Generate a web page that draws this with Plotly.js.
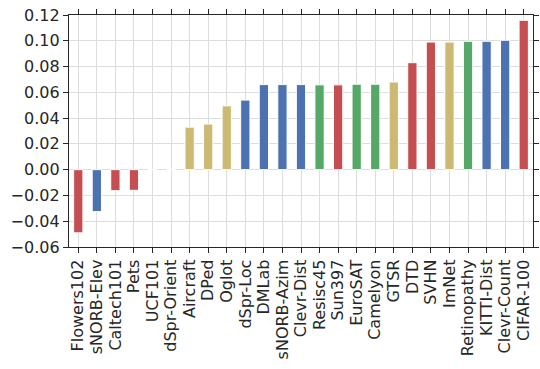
<!DOCTYPE html>
<html><head><meta charset="utf-8">
<script src="https://cdn.plot.ly/plotly-3.0.1.min.js"></script>
<style>body{margin:0;padding:0;background:#fff}#chart{width:540px;height:369px}</style>
</head><body><div id="chart"></div>
<script>
const categories = ["Flowers102","sNORB-Elev","Caltech101","Pets","UCF101","dSpr-Orient","Aircraft","DPed","Oglot","dSpr-Loc","DMLab","sNORB-Azim","Clevr-Dist","Resisc45","Sun397","EuroSAT","Camelyon","GTSR","DTD","SVHN","ImNet","Retinopathy","KITTI-Dist","Clevr-Count","CIFAR-100"];
const values = [-0.049,-0.0325,-0.0163,-0.016,0.0003,0.0002,0.033,0.0354,0.0495,0.054,0.066,0.066,0.066,0.0658,0.0658,0.0663,0.0663,0.068,0.083,0.099,0.099,0.0996,0.0996,0.1004,0.1159];
const groups = ["natural","structured","natural","natural","natural","structured","other","other","other","structured","structured","structured","structured","specialized","natural","specialized","specialized","other","natural","natural","other","specialized","structured","structured","natural"];
const groupColors = {natural:"#C44E52", structured:"#4C72B0", specialized:"#55A868", other:"#CCB974"};
const yTicks = [-0.06,-0.04,-0.02,0.00,0.02,0.04,0.06,0.08,0.10,0.12];

const trace = {
  type: "bar",
  x: categories.map((c,i)=>i),
  y: values,
  width: 0.5,
  marker: {color: groups.map(g=>groupColors[g]), line: {color: "#ffffff", width: 1}},
  hoverinfo: "skip"
};
const layout = {
  width: 540, height: 369,
  margin: {l: 69, r: 7, t: 15, b: 122},
  paper_bgcolor: "#fff", plot_bgcolor: "#fff",
  showlegend: false,
  font: {family: "DejaVu Sans, sans-serif", size: 16, color: "#262626"},
  xaxis: {
    range: [-0.5, 24.5],
    tickmode: "array", tickvals: categories.map((c,i)=>i), ticktext: categories,
    tickangle: -90, ticks: "outside", ticklen: 5, tickcolor: "#262626", tickwidth: 1,
    showline: true, linecolor: "#262626", linewidth: 1.2, mirror: "allticks",
    showgrid: true, gridcolor: "#dddddd", gridwidth: 1, zeroline: false,
    tickfont: {size: 16}
  },
  yaxis: {
    range: [-0.06, 0.12],
    tickmode: "array", tickvals: yTicks, ticktext: yTicks.map(v=>(v<0?"\u2212":"")+Math.abs(v).toFixed(2)),
    ticks: "outside", ticklen: 5, tickcolor: "#262626", tickwidth: 1,
    showline: true, linecolor: "#262626", linewidth: 1.2, mirror: "allticks",
    showgrid: true, gridcolor: "#dddddd", gridwidth: 1, zeroline: false,
    tickfont: {size: 16}
  }
};
Plotly.newPlot("chart", [trace], layout, {displayModeBar: false, staticPlot: true});
</script></body></html>
